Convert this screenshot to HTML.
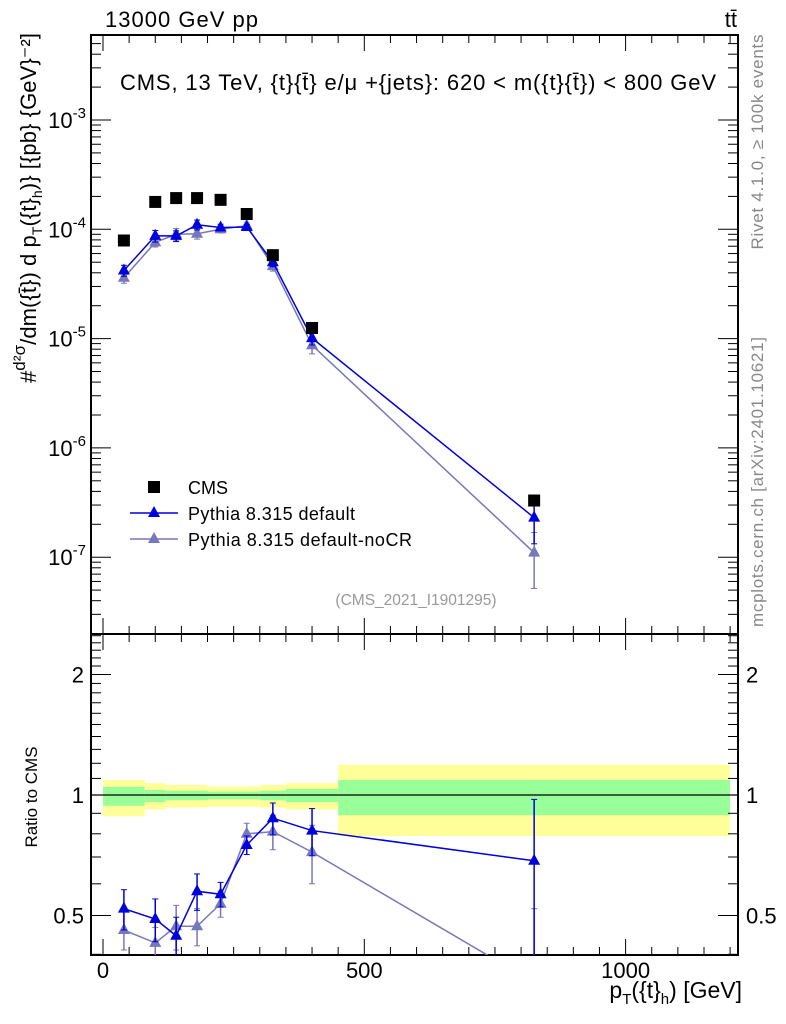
<!DOCTYPE html>
<html><head><meta charset="utf-8"><style>
html,body{margin:0;padding:0;background:#fff;overflow:hidden;width:786px;height:1024px;}
svg{display:block;font-family:"Liberation Sans",sans-serif;}
</style></head><body>
<svg id="c" width="786" height="1024" viewBox="0 0 786 1024">
<text x="105" y="27" font-size="22" textLength="153">13000 GeV pp</text>
<text x="737" y="27" font-size="22" text-anchor="end">tt̄</text>
<text transform="translate(763,142) rotate(-90)" font-size="17" fill="#888" text-anchor="middle" textLength="215">Rivet 4.1.0, ≥ 100k events</text>
<text transform="translate(763,482) rotate(-90)" font-size="17" fill="#888" text-anchor="middle" textLength="290">mcplots.cern.ch [arXiv:2401.10621]</text>
<text x="120" y="90" font-size="22" textLength="596">CMS, 13 TeV, {t}{t̄} e/μ +{jets}: 620 &lt; m({t}{t̄}) &lt; 800 GeV</text>
<text x="416" y="605" font-size="15.5" fill="#999" text-anchor="middle">(CMS_2021_I1901295)</text>
<text transform="translate(36,383) rotate(-90)" font-size="22" textLength="350">#<tspan font-size="17" dy="-11">d²σ</tspan><tspan dy="11">/dm({t̄}) d p</tspan><tspan font-size="14" dy="6">T</tspan><tspan dy="-6">({t}</tspan><tspan font-size="14" dy="6">h</tspan><tspan dy="-6">)} [{pb} {GeV}⁻²]</tspan></text>
<text transform="translate(37,797) rotate(-90)" font-size="17" text-anchor="middle">Ratio to CMS</text>
<text x="742" y="998" font-size="23" text-anchor="end">p<tspan font-size="15" dy="6">T</tspan><tspan dy="-6">({t}</tspan><tspan font-size="15" dy="6">h</tspan><tspan dy="-6">) [GeV]</tspan></text>
<g id="legend">
<rect x="148" y="481" width="12" height="12" fill="#000"/>
<text x="188" y="494" font-size="18">CMS</text>
<line x1="130" y1="513" x2="178" y2="513" stroke="#0000dd" stroke-width="1.5"/>
<polygon points="154,506 160,517 148,517" fill="#0000dd"/>
<text x="188" y="520" font-size="18" textLength="167">Pythia 8.315 default</text>
<line x1="130" y1="539" x2="178" y2="539" stroke="#7777bb" stroke-width="1.5"/>
<polygon points="154,532 160,543 148,543" fill="#7777bb"/>
<text x="188" y="546" font-size="18" textLength="224">Pythia 8.315 default-noCR</text>
</g>
</svg>
<script>
const binEdges=[0,80,120,200,300,350,450,1200];
const bandYellowLo=[0.885,0.92,0.93,0.935,0.93,0.92,0.79];
const bandYellowHi=[1.09,1.07,1.06,1.05,1.06,1.07,1.19];
const bandGreenLo=[0.94,0.96,0.97,0.975,0.97,0.96,0.89];
const bandGreenHi=[1.047,1.03,1.025,1.02,1.025,1.035,1.09];
const xCenters=[40,100,140,180,225,275,325,400,825];
const cmsVals=[7.9e-5,1.78e-4,1.93e-4,1.93e-4,1.86e-4,1.38e-4,5.8e-5,1.25e-5,3.3e-7];
const defVals=[4.2e-5,8.7e-5,8.7e-5,1.1e-4,1.04e-4,1.05e-4,5.0e-5,1.01e-5,2.3e-7];
const nocrVals=[3.6e-5,7.6e-5,9.0e-5,9.1e-5,1.0e-4,1.08e-4,4.6e-5,8.7e-6,1.1e-7];
const defRatio=[0.52,0.49,0.445,0.575,0.565,0.75,0.875,0.815,0.685];
const defRatioErr=[0.06,0.06,0.05,0.06,0.04,0.04,0.08,0.11,0.29];
const nocrRatio=[0.46,0.427,0.47,0.47,0.535,0.80,0.81,0.72,0.34];
const nocrRatioErr=[0.05,0.04,0.06,0.05,0.04,0.05,0.08,0.12,0.18];
const xTickLabels=[0,500,1000];
const yMainTicks=[-7,-6,-5,-4,-3];
const yRatioTicks=[0.5,1,2];

const svg=document.getElementById('c');
const NS='http://www.w3.org/2000/svg';
const L=91,R=738,T=35,D=634,B=955;
const X=v=>103+v*0.5226;
const YM=v=>120-(Math.log10(v)+3)*109.3;
const YR=v=>795-Math.log2(v)*120.5;
function mk(tag,attrs,parent){const e=document.createElementNS(NS,tag);for(const k in attrs)e.setAttribute(k,attrs[k]);(parent||svg).appendChild(e);return e;}
const xmax=(R-103)/0.5226;

const bands=mk('g',{});


for(let i=0;i<binEdges.length-1;i++){
 const x1=X(binEdges[i]),x2=X(Math.min(binEdges[i+1],xmax-8));
 const y=mk('rect',{x:x1,y:YR(bandYellowHi[i]),width:x2-x1,height:YR(bandYellowLo[i])-YR(bandYellowHi[i]),fill:'#ffff99'},bands);
 
 
 const g=mk('rect',{x:x1,y:YR(bandGreenHi[i]),width:x2-x1,height:YR(bandGreenLo[i])-YR(bandGreenHi[i]),fill:'#99ff99'},bands);
 
 
}
const one=mk('line',{x1:L,x2:R,y1:YR(1),y2:YR(1),stroke:'#000','stroke-width':1.2});



const f1=mk('rect',{x:L,y:T,width:R-L,height:D-T,fill:'none',stroke:'#000','stroke-width':2});


const f2=mk('rect',{x:L,y:D,width:R-L,height:B-D,fill:'none',stroke:'#000','stroke-width':2});



for(let v=0;v<=1200;v+=50){
 const major=v%500===0, len=major?16:8;
 for(const [yb,yt] of [[D,T],[B,D]]){
  mk('line',{x1:X(v),x2:X(v),y1:yb,y2:yb-len,stroke:'#000'});
  mk('line',{x1:X(v),x2:X(v),y1:yt,y2:yt+len,stroke:'#000'});
 }
}
xTickLabels.forEach(v=>{const t=mk('text',{x:X(v),y:978,'font-size':22,'text-anchor':'middle'});t.textContent=v;
 
 });
for(let d=-8;d<=-3;d++){for(let m=1;m<10;m++){const v=m*Math.pow(10,d);const y=YM(v);if(y<T||y>D)continue;const len=m===1?20:10;
 mk('line',{x1:L,x2:L+len,y1:y,y2:y,stroke:'#000'});mk('line',{x1:R,x2:R-len,y1:y,y2:y,stroke:'#000'});}}
yMainTicks.forEach(d=>{const t=mk('text',{x:86,y:YM(Math.pow(10,d))+8,'font-size':22,'text-anchor':'end'});t.innerHTML='10<tspan font-size="15" dy="-10">'+d+'</tspan>';
 
 });
for(let v=0.4;v<=2.55;v+=0.1){const y=YR(v);if(y<D||y>B)continue;const maj=[0.5,1,2].some(m=>Math.abs(m-v)<1e-6);const len=maj?20:10;
 mk('line',{x1:L,x2:L+len,y1:y,y2:y,stroke:'#000'});mk('line',{x1:R,x2:R-len,y1:y,y2:y,stroke:'#000'});}
yRatioTicks.forEach(v=>{const t=mk('text',{x:84,y:YR(v)+8,'font-size':22,'text-anchor':'end'});t.textContent=v;
 
 
 const t2=mk('text',{x:746,y:YR(v)+8,'font-size':22});t2.textContent=v;
 
 });

function tri(g,x,y,c){return mk('polygon',{points:`${x},${y-7} ${x+6},${y+4} ${x-6},${y+4}`,fill:c},g);}
function series(vals,ratio,err,color,name){
 const main=mk('g',{});
 const rat=mk('g',{'clip-path':'url(#rclip)'});
 mk('polyline',{points:xCenters.map((x,i)=>X(x)+','+YM(vals[i])).join(' '),fill:'none',stroke:color,'stroke-width':1.5},main);
 mk('polyline',{points:xCenters.map((x,i)=>X(x)+','+YR(ratio[i])).join(' '),fill:'none',stroke:color,'stroke-width':1.5},rat);
 xCenters.forEach((x,i)=>{
  const rl=Math.max(1-err[i]/ratio[i],0.05),rh=1+err[i]/ratio[i];
  const segs=[[rat,YR(ratio[i]*rl),YR(ratio[i]*rh)],[main,YM(vals[i]*rl),YM(vals[i]*rh)]];
  for(const [g,ylo,yhi] of segs){
   mk('line',{x1:X(x),x2:X(x),y1:ylo,y2:yhi,stroke:color,'stroke-width':1.5},g);
   mk('line',{x1:X(x)-3,x2:X(x)+3,y1:ylo,y2:ylo,stroke:color},g);
   mk('line',{x1:X(x)-3,x2:X(x)+3,y1:yhi,y2:yhi,stroke:color},g);
  }
  const a=tri(main,X(x),YM(vals[i]),color);
  
  
  const b=tri(rat,X(x),YR(ratio[i]),color);
  
  
 });
}
const defs=mk('defs',{});const cp=mk('clipPath',{id:'rclip'},defs);mk('rect',{x:L,y:D,width:R-L,height:B-D},cp);
series(nocrVals,nocrRatio,nocrRatioErr,'#7777bb','pythia-nocr');
series(defVals,defRatio,defRatioErr,'#0000dd','pythia-default');
const cg=mk('g',{});
xCenters.forEach((x,i)=>{const r=mk('rect',{x:X(x)-6,y:YM(cmsVals[i])-6,width:12,height:12,fill:'#000'},cg);
 
 });
</script>
</body></html>
